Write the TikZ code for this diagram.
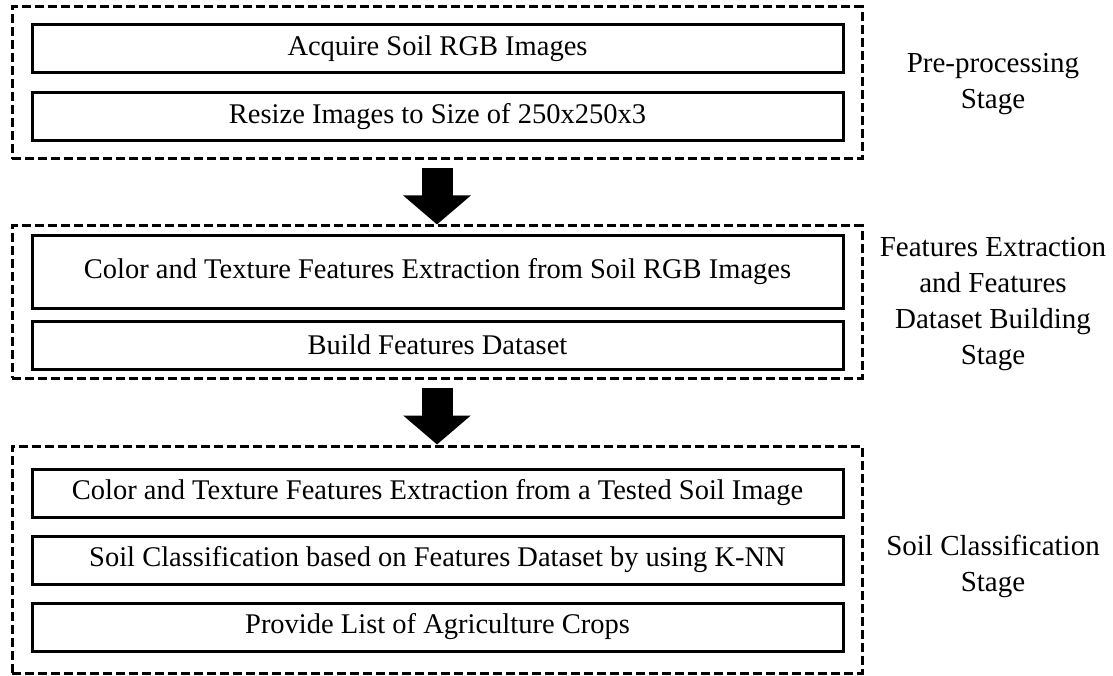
\documentclass[tikz,border=0pt]{standalone}
\usepackage{fontspec}
\setmainfont{Liberation Serif}
\usetikzlibrary{arrows.meta}

\begin{document}
\begin{tikzpicture}[x=1pt,y=-1pt,
        stepbox/.style={draw, line width=3pt, minimum width=811pt, minimum height=48pt, inner sep=0pt, font=\fontsize{28.5}{32}\selectfont},
        stagebox/.style={draw, line width=3pt, dash pattern=on 9pt off 4pt, minimum width=850pt, inner sep=0pt},
        stagelabel/.style={align=center, font=\fontsize{29}{36}\selectfont},
        flowarrow/.style={line width=31pt, -{Triangle[length=29pt, width=66pt]}, shorten <=8pt}]
        \useasboundingbox (0,0) rectangle (1113,676);

        % stage frames
        \node[stagebox, minimum height=152pt] (pre) at (437,83) {};
        \node[stagebox, minimum height=152pt] (feat) at (437,302) {};
        \node[stagebox, minimum height=227pt] (cls) at (437,559.5) {};

        % steps
        \node[stepbox] (acquire) at (437.5,49) {Acquire Soil RGB Images};
        \node[stepbox] (resize) at (437.5,116.5) {Resize Images to Size of 250x250x3};
        \node[stepbox, minimum height=72pt] (extract) at (437.5,272) {Color and Texture Features Extraction from Soil RGB Images};
        \node[stepbox] (build) at (437.5,345) {Build Features Dataset};
        \node[stepbox] (tested) at (437.5,493) {Color and Texture Features Extraction from a Tested Soil Image};
        \node[stepbox] (knn) at (437.5,560) {Soil Classification based on Features Dataset by using K-NN};
        \node[stepbox] (crops) at (437.5,627) {Provide List of Agriculture Crops};

        % stage names
        \node[stagelabel] (prelab) at (993,84) {Pre-processing\\Stage};
        \node[stagelabel] (featlab) at (993,304) {Features Extraction\\and Features\\Dataset Building\\Stage};
        \node[stagelabel] (clslab) at (993,566) {Soil Classification\\Stage};

        \draw[flowarrow] (pre.south) -- (feat.north);
        \draw[flowarrow] (feat.south) -- (cls.north);
    \end{tikzpicture}
\end{document}
